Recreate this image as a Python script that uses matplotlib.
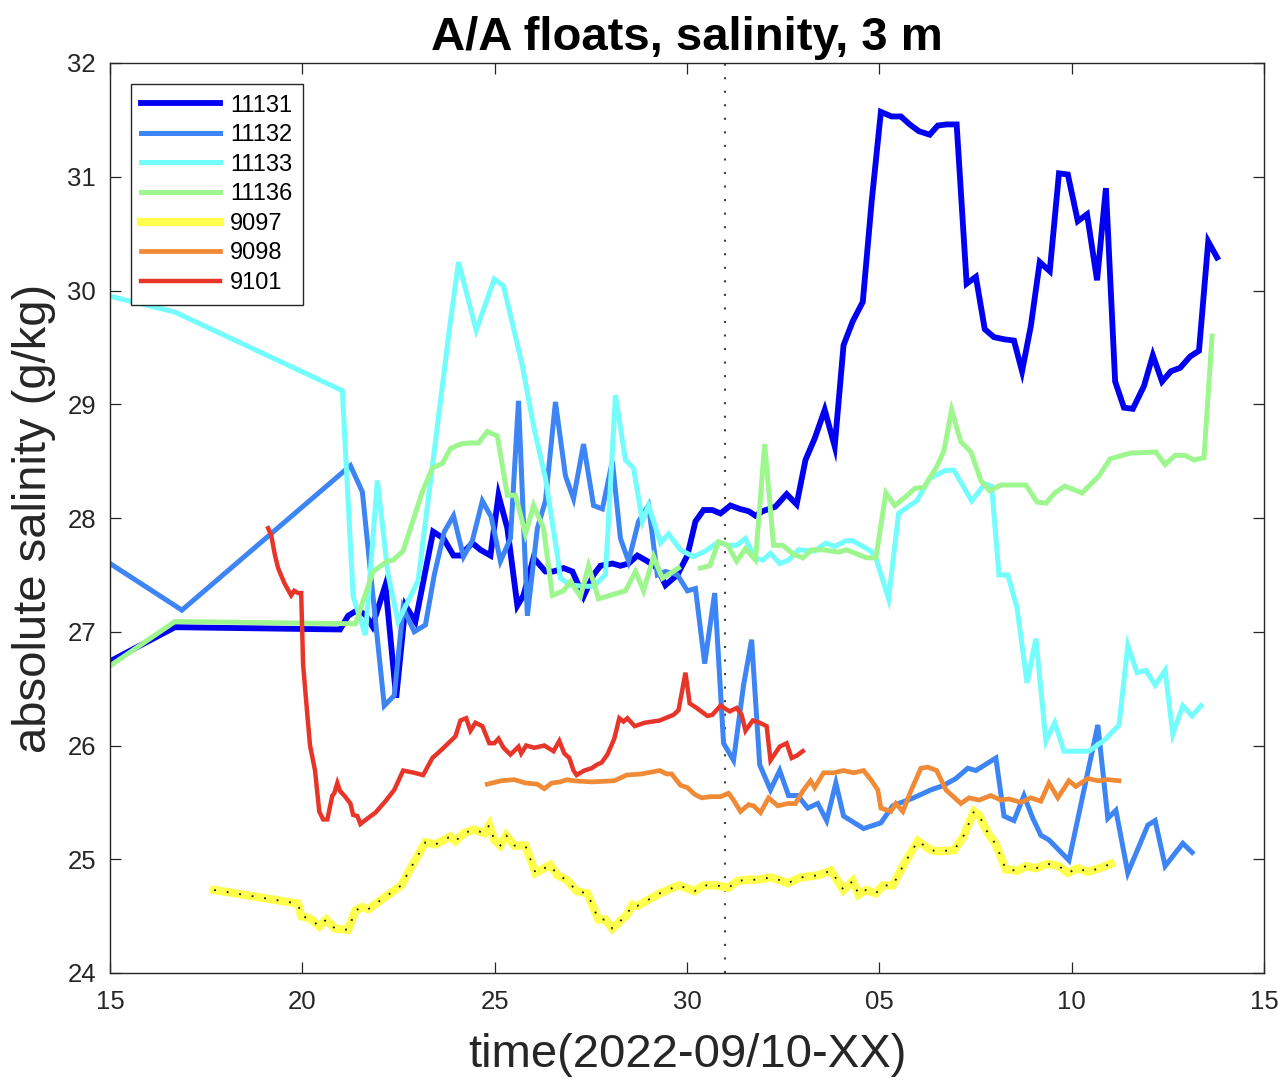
import numpy as np
import matplotlib
matplotlib.use("Agg")
import matplotlib.pyplot as plt

plt.rcParams['font.family'] = ['Liberation Sans', 'DejaVu Sans']

# Time axis: day of September 2022 (31 = 1 October, 45 = 15 October)
xticks = [15, 20, 25, 30, 35, 40, 45]
xtick_labels = ['15', '20', '25', '30', '05', '10', '15']
yticks = [24, 25, 26, 27, 28, 29, 30, 31, 32]

day_11131 = [15.00, 16.69, 20.98, 21.19, 21.43, 21.64, 21.82, 22.16, 22.44, 22.68, 22.94, 23.40, 23.67, 23.93,
             24.11, 24.42, 24.63, 24.89, 25.10, 25.33, 25.59, 25.75, 26.01, 26.32, 26.53, 26.79, 27.02, 27.31,
             27.57, 27.75, 28.06, 28.27, 28.48, 28.71, 28.97, 29.23, 29.44, 29.75, 30.01, 30.22, 30.43, 30.66,
             30.87, 31.13, 31.37, 31.60, 31.78, 31.97, 32.30, 32.59, 32.85, 33.08, 33.32, 33.58, 33.84, 34.07,
             34.31, 34.57, 34.80, 35.04, 35.32, 35.56, 35.79, 36.03, 36.31, 36.52, 36.75, 37.01, 37.27, 37.51,
             37.74, 37.98, 38.26, 38.50, 38.71, 38.94, 39.17, 39.43, 39.67, 39.90, 40.16, 40.40, 40.66, 40.89,
             41.13, 41.36, 41.59, 41.88, 42.11, 42.35, 42.58, 42.82, 43.08, 43.31, 43.55, 43.78]
sal_11131 = [26.74, 27.04, 27.02, 27.14, 27.19, 27.15, 27.05, 27.41, 26.42, 27.23, 27.09, 27.88, 27.82, 27.67,
             27.67, 27.78, 27.72, 27.67, 28.20, 27.91, 27.23, 27.32, 27.65, 27.53, 27.53, 27.56, 27.53, 27.31,
             27.50, 27.58, 27.60, 27.58, 27.60, 27.67, 27.62, 27.56, 27.41, 27.50, 27.67, 27.97, 28.07, 28.07,
             28.04, 28.11, 28.08, 28.06, 28.02, 28.06, 28.10, 28.21, 28.12, 28.51, 28.70, 28.95, 28.63, 29.52,
             29.73, 29.90, 30.78, 31.57, 31.53, 31.53, 31.46, 31.40, 31.37, 31.45, 31.46, 31.46, 30.06, 30.12,
             29.66, 29.59, 29.57, 29.56, 29.29, 29.69, 30.25, 30.17, 31.03, 31.02, 30.61, 30.67, 30.09, 30.90,
             29.20, 28.97, 28.96, 29.16, 29.43, 29.20, 29.29, 29.32, 29.42, 29.47, 30.43, 30.29]

day_11132 = [15.00, 16.87, 21.25, 21.56, 21.77, 22.13, 22.39, 22.62, 22.91, 23.20, 23.43, 23.69, 23.93, 24.19,
             24.42, 24.68, 24.91, 25.15, 25.41, 25.62, 25.85, 26.11, 26.32, 26.58, 26.84, 27.05, 27.31, 27.57,
             27.80, 28.06, 28.27, 28.48, 28.74, 29.00, 29.23, 29.44, 29.75, 30.01, 30.22, 30.46, 30.72, 30.95,
             31.21, 31.47, 31.68, 31.89, 32.17, 32.41, 32.64, 32.88, 33.14, 33.40, 33.63, 33.87, 34.07, 34.59,
             35.04, 35.35, 35.89, 36.34, 36.68, 36.99, 37.30, 37.51, 38.03, 38.24, 38.50, 38.76, 38.99, 39.20,
             39.41, 39.67, 39.93, 40.68, 40.94, 41.15, 41.46, 41.98, 42.17, 42.43, 42.66, 42.89, 43.13]
sal_11132 = [27.60, 27.19, 28.46, 28.23, 27.53, 26.35, 26.44, 27.21, 27.00, 27.06, 27.50, 27.88, 28.02, 27.66,
             27.80, 28.15, 28.01, 27.62, 27.82, 29.03, 27.14, 27.91, 28.15, 29.02, 28.37, 28.17, 28.65, 28.11,
             28.08, 28.50, 27.82, 27.62, 27.97, 28.11, 27.50, 27.53, 27.50, 27.36, 27.38, 26.72, 27.34, 26.02,
             25.87, 26.53, 26.93, 25.83, 25.61, 25.78, 25.56, 25.56, 25.45, 25.49, 25.34, 25.67, 25.38, 25.27,
             25.32, 25.47, 25.54, 25.61, 25.65, 25.71, 25.80, 25.78, 25.89, 25.38, 25.34, 25.56, 25.36, 25.21,
             25.17, 25.08, 24.99, 26.18, 25.36, 25.43, 24.88, 25.30, 25.34, 24.94, 25.04, 25.14, 25.06]

day_11133 = [15.00, 16.69, 21.04, 21.32, 21.64, 21.95, 22.23, 22.49, 23.01, 23.85, 24.06, 24.52, 24.99, 25.23,
             25.72, 26.01, 26.32, 26.63, 26.71, 26.97, 27.31, 27.57, 27.88, 28.14, 28.40, 28.61, 28.84, 29.00,
             29.31, 29.52, 29.83, 30.17, 30.48, 30.82, 31.06, 31.29, 31.52, 31.76, 31.97, 32.17, 32.41, 32.64,
             32.90, 33.32, 33.61, 33.84, 34.13, 34.31, 34.78, 34.91, 35.24, 35.50, 35.79, 35.97, 36.31, 36.73,
             36.94, 37.40, 37.74, 37.92, 38.11, 38.34, 38.58, 38.84, 39.07, 39.33, 39.56, 39.80, 40.45, 40.86,
             41.23, 41.46, 41.70, 41.93, 42.17, 42.43, 42.63, 42.89, 43.13, 43.36]
sal_11133 = [29.95, 29.81, 29.12, 27.31, 26.97, 28.33, 27.50, 27.09, 27.45, 29.73, 30.25, 29.65, 30.10, 30.04,
             29.34, 28.81, 28.35, 27.67, 27.47, 27.41, 27.40, 27.40, 27.50, 29.08, 28.51, 28.44, 27.97, 28.11,
             27.78, 27.86, 27.72, 27.66, 27.71, 27.79, 27.76, 27.76, 27.82, 27.65, 27.63, 27.69, 27.60, 27.63,
             27.72, 27.71, 27.78, 27.75, 27.80, 27.80, 27.71, 27.65, 27.29, 28.04, 28.11, 28.15, 28.35, 28.42,
             28.42, 28.15, 28.30, 28.28, 27.50, 27.50, 27.21, 26.55, 26.94, 26.04, 26.20, 25.95, 25.95, 26.05,
             26.18, 26.88, 26.64, 26.66, 26.53, 26.66, 26.10, 26.35, 26.26, 26.35]

# nan marks a gap in the record
day_11136 = [15.00, 16.69, 21.38, 21.84, 22.21, 22.36, 22.62, 23.12, 23.38, 23.64, 23.85, 24.11, 24.37, 24.58,
             24.81, 25.07, 25.33, 25.54, 25.80, 26.01, 26.27, 26.50, 26.79, 26.97, 27.23, 27.44, 27.70, 28.40,
             28.66, 28.87, 29.13, 29.36, 29.78, np.nan, 30.35, 30.59, 30.82, 31.06, 31.29, 31.52, 31.78, 32.02,
             32.25, 32.49, 32.77, 33.01, 33.24, 33.55, 33.94, 34.15, 34.67, 34.91, 35.17, 35.40, 35.66, 35.92,
             36.16, 36.49, 36.68, 36.88, 37.12, 37.38, 37.64, 37.87, 38.16, 38.39, 38.81, 39.10, 39.33, 39.56,
             39.82, 40.27, 40.71, 41.00, 41.52, 42.19, 42.43, 42.69, 42.95, 43.18, 43.44, 43.65]
sal_11136 = [26.70, 27.09, 27.07, 27.53, 27.62, 27.63, 27.71, 28.23, 28.44, 28.48, 28.61, 28.65, 28.66, 28.66,
             28.76, 28.72, 28.20, 28.20, 27.86, 28.11, 27.91, 27.32, 27.36, 27.44, 27.31, 27.58, 27.29, 27.36,
             27.53, 27.36, 27.66, 27.47, 27.56, np.nan, 27.56, 27.58, 27.79, 27.76, 27.62, 27.73, 27.63, 28.65,
             27.76, 27.76, 27.68, 27.65, 27.72, 27.72, 27.70, 27.72, 27.65, 27.65, 28.22, 28.11, 28.18, 28.26,
             28.27, 28.45, 28.59, 28.95, 28.67, 28.58, 28.33, 28.24, 28.29, 28.29, 28.29, 28.14, 28.13, 28.22,
             28.28, 28.22, 28.37, 28.52, 28.57, 28.58, 28.47, 28.55, 28.55, 28.51, 28.53, 29.60]

day_9097 = [17.71, 19.89, 19.97, 20.20, 20.44, 20.62, 20.85, 21.19, 21.38, 21.56, 21.71, 22.57, 22.78, 23.20,
            23.46, 23.85, 23.98, 24.21, 24.45, 24.73, 24.86, 24.99, 25.15, 25.30, 25.51, 25.80, 26.06, 26.45,
            26.63, 26.87, 27.13, 27.41, 27.70, 27.88, 28.06, 28.43, 28.58, 28.71, 29.29, 29.78, 30.20, 30.43,
            30.77, 31.08, 31.32, 31.60, 31.86, 32.17, 32.38, 32.62, 32.95, 33.42, 33.74, 34.07, 34.31, 34.46,
            34.65, 34.91, 35.09, 35.35, 35.63, 36.00, 36.34, 36.52, 36.94, 37.17, 37.46, 37.59, 37.82, 38.03,
            38.29, 38.60, 38.81, 39.07, 39.38, 39.67, 39.90, 40.16, 40.42, 40.71, 41.02]
sal_9097 = [24.73, 24.61, 24.50, 24.48, 24.41, 24.47, 24.39, 24.38, 24.55, 24.58, 24.56, 24.77, 24.90, 25.15,
            25.13, 25.20, 25.16, 25.23, 25.26, 25.23, 25.30, 25.17, 25.12, 25.21, 25.12, 25.12, 24.88, 24.95,
            24.86, 24.82, 24.72, 24.70, 24.47, 24.47, 24.39, 24.51, 24.60, 24.59, 24.70, 24.77, 24.72, 24.77,
            24.77, 24.75, 24.81, 24.82, 24.82, 24.84, 24.82, 24.79, 24.84, 24.86, 24.90, 24.73, 24.81, 24.69,
            24.73, 24.70, 24.77, 24.77, 24.95, 25.16, 25.08, 25.07, 25.08, 25.19, 25.42, 25.39, 25.23, 25.13,
            24.91, 24.90, 24.94, 24.92, 24.96, 24.94, 24.88, 24.92, 24.89, 24.92, 24.96]

day_9098 = [24.81, 25.17, 25.51, 25.80, 26.11, 26.29, 26.48, 26.71, 26.87, 27.05, 27.52, 28.11, 28.43, 28.82,
            29.29, 29.47, 29.60, 29.83, 30.01, 30.20, 30.38, 30.61, 30.87, 31.08, 31.21, 31.39, 31.60, 31.73,
            31.91, 32.12, 32.36, 32.62, 32.82, 33.01, 33.21, 33.32, 33.55, 33.81, 34.07, 34.33, 34.59, 34.78,
            34.96, 35.04, 35.30, 35.43, 35.61, 35.82, 36.08, 36.26, 36.49, 36.73, 37.12, 37.33, 37.59, 37.90,
            38.16, 38.37, 38.68, 38.94, 39.20, 39.41, 39.64, 39.93, 40.11, 40.42, 40.68, 40.94, 41.23]
sal_9098 = [25.66, 25.69, 25.70, 25.67, 25.66, 25.62, 25.67, 25.68, 25.70, 25.69, 25.68, 25.69, 25.74, 25.75,
            25.78, 25.75, 25.75, 25.65, 25.63, 25.57, 25.54, 25.55, 25.55, 25.58, 25.52, 25.42, 25.48, 25.47,
            25.41, 25.54, 25.47, 25.49, 25.49, 25.60, 25.69, 25.63, 25.76, 25.76, 25.78, 25.76, 25.78, 25.70,
            25.61, 25.45, 25.42, 25.49, 25.42, 25.60, 25.80, 25.81, 25.78, 25.61, 25.49, 25.54, 25.52, 25.56,
            25.52, 25.53, 25.50, 25.54, 25.51, 25.67, 25.54, 25.69, 25.64, 25.71, 25.69, 25.70, 25.69]

day_9101 = [19.11, 19.19, 19.29, 19.37, 19.53, 19.61, 19.71, 19.79, 19.89, 19.97, 20.02, 20.13, 20.20, 20.33,
            20.44, 20.54, 20.65, 20.78, 20.83, 20.91, 20.98, 21.09, 21.25, 21.32, 21.43, 21.51, 21.66, 21.90,
            22.16, 22.39, 22.62, 22.91, 23.14, 23.38, 23.61, 23.98, 24.11, 24.26, 24.37, 24.50, 24.68, 24.86,
            24.99, 25.10, 25.23, 25.41, 25.62, 25.69, 25.82, 26.03, 26.29, 26.53, 26.68, 26.81, 26.94, 27.05,
            27.13, 27.33, 27.52, 27.65, 27.78, 27.93, 28.11, 28.24, 28.35, 28.45, 28.64, 28.90, 29.29, 29.65,
            29.78, 29.96, 30.07, 30.25, 30.53, 30.66, 30.87, 31.11, 31.29, 31.42, 31.52, 31.71, 31.89, 32.07,
            32.17, 32.41, 32.59, 32.72, 32.85, 33.01]
sal_9101 = [27.91, 27.85, 27.67, 27.56, 27.43, 27.38, 27.32, 27.36, 27.34, 27.34, 26.71, 26.27, 26.00, 25.78,
            25.42, 25.35, 25.35, 25.56, 25.58, 25.67, 25.60, 25.56, 25.49, 25.39, 25.38, 25.31, 25.35, 25.41,
            25.51, 25.61, 25.78, 25.76, 25.74, 25.89, 25.96, 26.08, 26.22, 26.24, 26.13, 26.20, 26.17, 26.02,
            26.02, 26.06, 25.98, 25.92, 25.99, 25.93, 26.00, 25.98, 26.00, 25.95, 26.04, 25.93, 25.89, 25.78,
            25.74, 25.78, 25.80, 25.83, 25.85, 25.92, 26.06, 26.24, 26.21, 26.24, 26.17, 26.20, 26.22, 26.27,
            26.31, 26.64, 26.37, 26.33, 26.26, 26.27, 26.35, 26.30, 26.33, 26.27, 26.13, 26.22, 26.20, 26.17,
            25.87, 25.99, 26.02, 25.89, 25.91, 25.95]

floats = ['11131', '11132', '11133', '11136', '9097', '9098', '9101']
colors = ['#0000F2', '#3D84F5', '#73FDFD', '#9EF78E', '#FFFF4D', '#F18A36', '#E8352A']
widths = [4.2, 3.6, 3.6, 3.6, 6.0, 3.4, 3.2]
series = [(day_11131, sal_11131), (day_11132, sal_11132), (day_11133, sal_11133),
          (day_11136, sal_11136), (day_9097, sal_9097), (day_9098, sal_9098), (day_9101, sal_9101)]

axis_color = '#262626'

fig = plt.figure(figsize=(12.8, 10.81), dpi=100)
ax = fig.add_axes([110 / 1280, (1081 - 973) / 1081, (1264 - 110) / 1280, (973 - 63) / 1081])

for name, (d, s), c, w in zip(floats, series, colors, widths):
    ax.plot(d, s, color=c, lw=w, label=name, solid_joinstyle='miter', zorder=2)
    if name == '9097':
        # black dotted trace over the yellow line
        ax.plot(d, s, color='#111111', lw=1.3, linestyle=(0, (1, 6)), zorder=2.1)

# 1 October
ax.axvline(31, color='#404040', lw=1.5, linestyle=(0, (1, 5.5)), zorder=1)

ax.set_xlim(15, 45)
ax.set_ylim(24, 32)
ax.set_xticks(xticks)
ax.set_xticklabels(xtick_labels)
ax.set_yticks(yticks)

ax.tick_params(direction='in', length=8, width=0.9, top=True, right=True,
               labelsize=18.5, colors=axis_color, labelcolor=axis_color)
ax.tick_params(axis='x', pad=12)
ax.tick_params(axis='y', pad=10)
for sp in ax.spines.values():
    sp.set_color(axis_color)
    sp.set_linewidth(1.0)

ax.set_title('A/A floats, salinity, 3 m', fontsize=34, fontweight='bold', pad=9, color='black')
ax.set_xlabel('time(2022-09/10-XX)', fontsize=34, labelpad=14, color=axis_color)
ax.set_ylabel('absolute salinity (g/kg)', fontsize=34, labelpad=8, color=axis_color)

leg = ax.legend(loc='upper left', bbox_to_anchor=(0.018, 0.977), borderaxespad=0,
                fontsize=17, handlelength=3.35, handletextpad=0.4, labelspacing=0.32,
                borderpad=0.45, fancybox=False, framealpha=1, edgecolor=axis_color)
leg.get_frame().set_linewidth(1.0)

fig.savefig('out.png', dpi=100)
